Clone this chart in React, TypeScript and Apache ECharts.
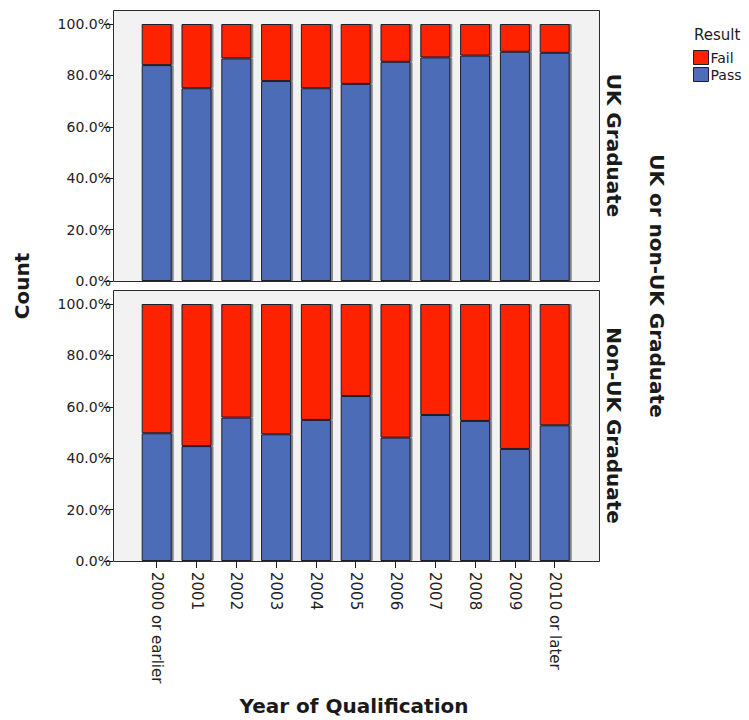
import React, { useEffect, useRef } from "react";
import * as echarts from "echarts";

const categories = [
  "2000 or earlier", "2001", "2002", "2003", "2004", "2005",
  "2006", "2007", "2008", "2009", "2010 or later",
];
const ukPass = [84.0, 75.0, 86.6, 77.8, 75.0, 76.7, 85.3, 87.0, 87.7, 89.2, 88.8];
const ukFail = [16.0, 25.0, 13.4, 22.2, 25.0, 23.3, 14.7, 13.0, 12.3, 10.8, 11.2];
const nonUkPass = [49.7, 44.7, 55.8, 49.3, 54.9, 64.2, 48.0, 56.8, 54.5, 43.6, 52.8];
const nonUkFail = [50.3, 55.3, 44.2, 50.7, 45.1, 35.8, 52.0, 43.2, 45.5, 56.4, 47.2];
const seriesNames = ["Fail", "Pass"];
const panelLabels = ["UK Graduate", "Non-UK Graduate"];

const FONT = "DejaVu Sans";
const BLUE = "#4e6cb8";
const RED = "#ff2200";
const INK = "#1a1a1a";

export default function App() {
  const ref = useRef<HTMLDivElement>(null);
  useEffect(() => {
    if (!ref.current) return;
    const chart = echarts.init(ref.current, undefined, { renderer: "svg" });

    const gridLeft = 136.8;
    const gridRight = 749 - 574.6;
    const panels = [
      { top: 24, frameTop: 10 },
      { top: 304, frameTop: 290 },
    ];
    const plotH = 257;

    const barStyle = (color: string) => ({
      color,
      borderColor: "#1c1c2c",
      borderWidth: 1,
      shadowColor: "rgba(0,0,0,0.45)",
      shadowOffsetX: 2,
      shadowOffsetY: 0,
      shadowBlur: 1,
    });

    const yAxisBase = (gi: number) => ({
      type: "value",
      gridIndex: gi,
      min: 0,
      max: 100,
      interval: 20,
      offset: gridLeft - 113,
      axisLine: { show: false },
      axisTick: { show: true, length: 9, lineStyle: { color: INK, width: 1 } },
      axisLabel: {
        formatter: (v: number) => v.toFixed(1) + "%",
        fontFamily: FONT,
        fontSize: 14,
        color: "#222",
        margin: 2,
      },
      splitLine: { show: false },
    });

    const titleText = (text: string, x: number, y: number, rotation: number) => ({
      type: "text",
      x,
      y,
      rotation,
      style: {
        text,
        fontFamily: FONT,
        fontSize: 20,
        fontWeight: "bold",
        fill: INK,
        textAlign: "center",
        textVerticalAlign: "middle",
      },
    });

    const option: any = {
      animation: false,
      backgroundColor: "#ffffff",
      title: {
        text: "Result",
        left: 689,
        top: 22,
        textStyle: { fontFamily: FONT, fontSize: 15, fontWeight: "normal", color: INK },
      },
      legend: {
        data: seriesNames,
        orient: "vertical",
        left: 693,
        top: 50,
        icon: "rect",
        itemWidth: 15,
        itemHeight: 14,
        itemGap: 2,
        padding: 0,
        textStyle: { fontFamily: FONT, fontSize: 14, color: INK, padding: [0, 0, 0, -3] },
        itemStyle: { borderColor: "#1c1c2c", borderWidth: 1 },
      },
      grid: panels.map((p) => ({
        left: gridLeft,
        right: gridRight,
        top: p.top,
        height: plotH,
      })),
      xAxis: [
        {
          type: "category",
          gridIndex: 0,
          data: categories,
          show: false,
        },
        {
          type: "category",
          gridIndex: 1,
          data: categories,
          axisLine: { show: false },
          axisTick: { show: true, alignWithLabel: true, length: 7, lineStyle: { color: INK } },
          axisLabel: {
            rotate: -90,
            interval: 0,
            fontFamily: FONT,
            fontSize: 15,
            color: "#222",
            margin: 11,
          },
        },
      ],
      yAxis: [yAxisBase(0), yAxisBase(1)],
      series: [
        { name: "Pass", type: "bar", xAxisIndex: 0, yAxisIndex: 0, stack: "uk", data: ukPass, barWidth: 30, itemStyle: barStyle(BLUE) },
        { name: "Fail", type: "bar", xAxisIndex: 0, yAxisIndex: 0, stack: "uk", data: ukFail, barWidth: 30, itemStyle: barStyle(RED) },
        { name: "Pass", type: "bar", xAxisIndex: 1, yAxisIndex: 1, stack: "non", data: nonUkPass, barWidth: 30, itemStyle: barStyle(BLUE) },
        { name: "Fail", type: "bar", xAxisIndex: 1, yAxisIndex: 1, stack: "non", data: nonUkFail, barWidth: 30, itemStyle: barStyle(RED) },
      ],
      graphic: [
        ...panels.map((p) => ({
          type: "rect",
          z: -10,
          silent: true,
          shape: { x: 113.5, y: p.frameTop + 0.5, width: 486, height: 271 },
          style: { fill: "#f2f2f2", stroke: "#2a2a2a", lineWidth: 1 },
        })),
        ...panels.map((p, i) => titleText(panelLabels[i], 614, p.frameTop + 135.5, -Math.PI / 2)),
        titleText("UK or non-UK Graduate", 657, 286, -Math.PI / 2),
        titleText("Count", 22, 286, Math.PI / 2),
        titleText("Year of Qualification", 354, 706, 0),
      ],
    };
    chart.setOption(option);
    return () => chart.dispose();
  }, []);

  return (
    <div
      ref={ref}
      style={{ position: "fixed", left: 0, top: 0, width: 749, height: 720 }}
    />
  );
}
